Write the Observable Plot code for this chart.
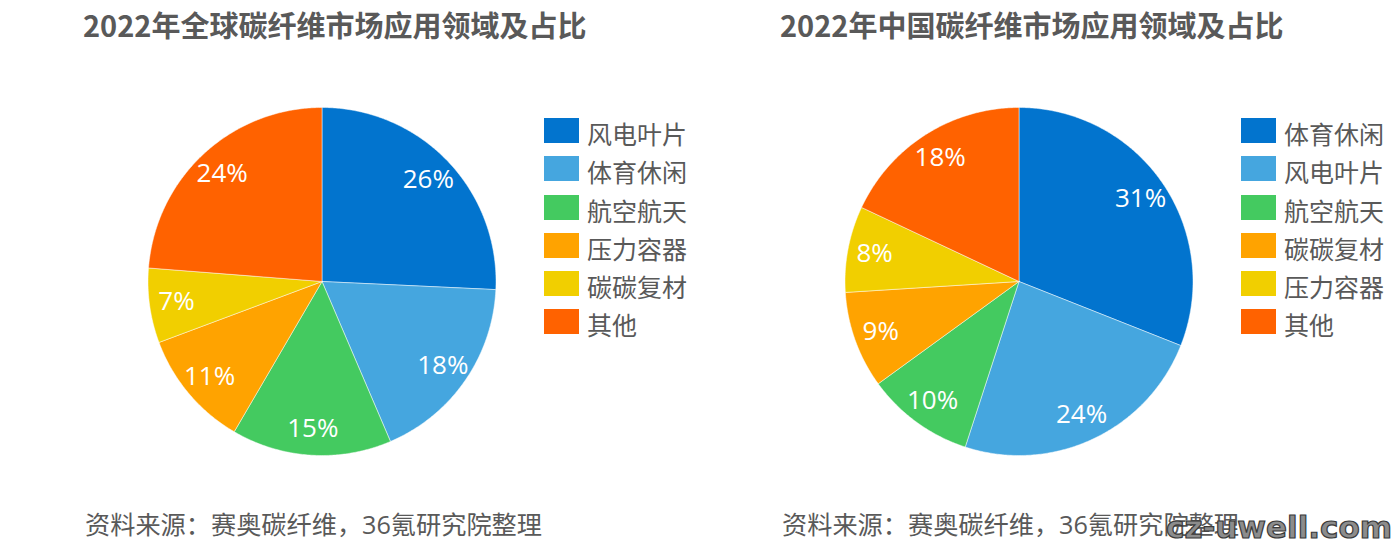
<!DOCTYPE html>
<html>
<head>
<meta charset="utf-8">
<script src="https://cdn.jsdelivr.net/npm/d3@7"></script>
<script src="https://cdn.jsdelivr.net/npm/@observablehq/plot@0.6"></script>
<style>
  html, body { margin: 0; padding: 0; background: #fff; }
  #root { position: relative; width: 1400px; height: 558px; overflow: hidden; font-family: "Open Sans", "Noto Sans CJK SC", sans-serif; }
  .panel { position: absolute; top: 0; width: 700px; height: 558px; }
  .panel svg { position: absolute; left: 0; top: 0; }
  .title { position: absolute; left: 83px; top: 10px; font-family: "Noto Sans CJK SC", sans-serif; font-weight: 700; font-size: 29px; line-height: 29px; color: #595959; white-space: nowrap; }
  .caption { position: absolute; left: 85px; top: 512px; font-family: "Open Sans", "Noto Sans CJK SC", sans-serif; font-size: 25.2px; line-height: 25px; color: #595959; white-space: nowrap; }
  .legend { position: absolute; left: 544px; top: 118px; }
  .legend .row { display: flex; align-items: center; height: 25px; margin-bottom: 13.3px; }
  .legend .sw { width: 35px; height: 25px; margin-right: 8px; }
  .legend .lab { font-family: "Noto Sans CJK SC", sans-serif; font-size: 25px; line-height: 25px; color: #595959; white-space: nowrap; position: relative; top: 3px; }
  .wm { position: absolute; left: 1166px; top: 507px; font-family: "DejaVu Sans", sans-serif; font-weight: bold; font-size: 31px; line-height: 40px; color: #8c8c8c; -webkit-text-stroke: 1.2px #3a3a3a; white-space: nowrap; }
</style>
</head>
<body>
<div id="root"></div>
<script>
// ---- data ----
const globalTitle = "2022年全球碳纤维市场应用领域及占比";
const globalNames = ["风电叶片", "体育休闲", "航空航天", "压力容器", "碳碳复材", "其他"];
const globalValues = [26, 18, 15, 11, 7, 24];

const chinaTitle = "2022年中国碳纤维市场应用领域及占比";
const chinaNames = ["体育休闲", "风电叶片", "航空航天", "碳碳复材", "压力容器", "其他"];
const chinaValues = [31, 24, 10, 9, 8, 18];

const sliceColors = ["#0274CE", "#45A6DF", "#44CA60", "#FFA300", "#F1CF00", "#FF6200"];
const captionText = "资料来源：赛奥碳纤维，36氪研究院整理";
const watermark = "cz-uwell.com";

// ---- layout ----
const PANEL_W = 697, W = 700, H = 558;
const CX = 321.5, CY = 281, R = 174, LABEL_R = 147;

function pieChart(names, values) {
  const rows = names.map((name, i) => ({name, value: values[i]}));
  const arcs = d3.pie().sort(null).value(d => d.value)(rows);
  const pts = [];
  const labels = [];
  arcs.forEach(a => {
    const name = a.data.name;
    pts.push({name, x: CX, y: CY});
    const n = Math.max(8, Math.ceil((a.endAngle - a.startAngle) / 0.01));
    for (let k = 0; k <= n; k++) {
      const t = a.startAngle + (a.endAngle - a.startAngle) * k / n;
      pts.push({name, x: CX + R * Math.sin(t), y: CY - R * Math.cos(t)});
    }
    pts.push({name, x: CX, y: CY});
    const m = (a.startAngle + a.endAngle) / 2;
    labels.push({name, x: CX + LABEL_R * Math.sin(m), y: CY - LABEL_R * Math.cos(m), text: a.data.value + "%"});
  });
  return Plot.plot({
    width: W, height: H,
    margin: 0,
    x: {domain: [0, W], range: [0, W], axis: null},
    y: {domain: [0, H], range: [0, H], axis: null},
    color: {domain: names, range: sliceColors},
    style: {background: "transparent", overflow: "visible"},
    marks: [
      Plot.line(pts, {x: "x", y: "y", z: "name", fill: "name", stroke: "#ffffff", strokeWidth: 0.8, strokeOpacity: 0.6, curve: "linear"}),
      Plot.text(labels, {x: "x", y: "y", text: "text", fill: "#ffffff", fontSize: 26, fontFamily: "Open Sans, sans-serif", textAnchor: "middle", lineAnchor: "middle"})
    ]
  });
}

function panel(left, title, names, values) {
  const div = document.createElement("div");
  div.className = "panel";
  div.style.left = left + "px";
  div.appendChild(pieChart(names, values));
  const t = document.createElement("div");
  t.className = "title"; t.textContent = title; div.appendChild(t);
  const lg = document.createElement("div");
  lg.className = "legend";
  names.forEach((n, i) => {
    const r = document.createElement("div"); r.className = "row";
    const s = document.createElement("div"); s.className = "sw"; s.style.background = sliceColors[i];
    const l = document.createElement("div"); l.className = "lab"; l.textContent = n;
    r.appendChild(s); r.appendChild(l); lg.appendChild(r);
  });
  div.appendChild(lg);
  const c = document.createElement("div");
  c.className = "caption"; c.textContent = captionText; div.appendChild(c);
  return div;
}

const root = document.getElementById("root");
root.appendChild(panel(0, globalTitle, globalNames, globalValues));
root.appendChild(panel(PANEL_W, chinaTitle, chinaNames, chinaValues));
const wm = document.createElement("div");
wm.className = "wm"; wm.textContent = watermark;
root.appendChild(wm);
</script>
</body>
</html>
